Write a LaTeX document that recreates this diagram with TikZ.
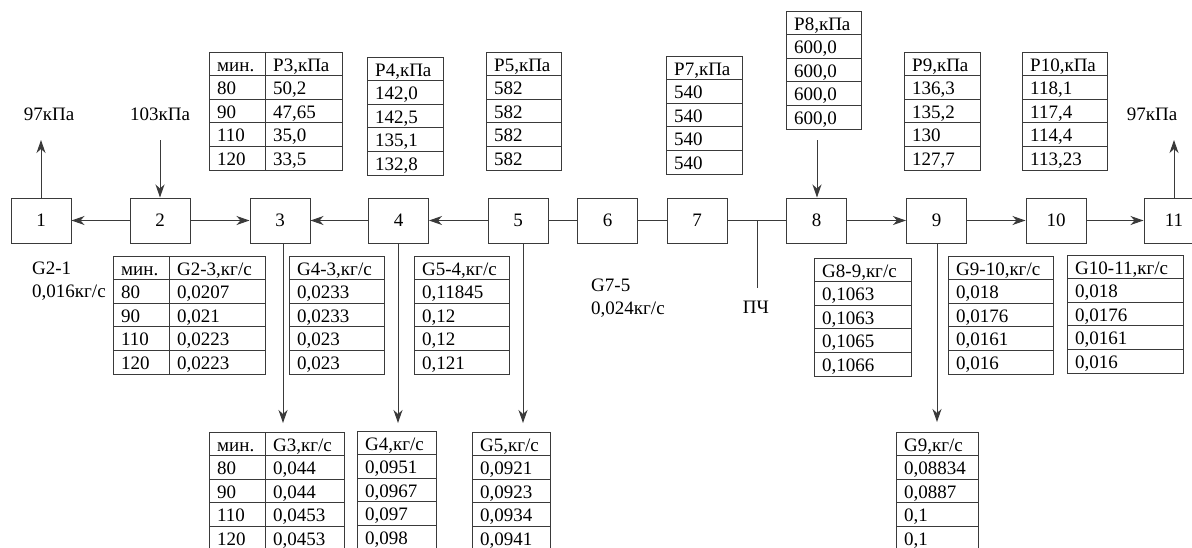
\documentclass[tikz,border=0pt]{standalone}
\usepackage{fontspec}
\setmainfont{Liberation Serif}
\usepackage{tikz}
\usetikzlibrary{arrows.meta,positioning,calc}
\definecolor{ink}{HTML}{3A3A3A}

% one column of a data table: name, left, top, right, entries (header first)
\newcommand{\gridcol}[5]{%
  \draw[tabline] (#2,#3) rectangle (#4,{#3+5*23.6});
  \foreach \r in {1,...,4}{\draw[tabline] (#2,{#3+\r*23.6}) -- (#4,{#3+\r*23.6});}
  \foreach \e [count=\i] in {#5}{\node[tabtxt] (#1-\i) at ({#2+8},{#3+\i*23.6-4.5}) {\e};}
}

\begin{document}
\begin{tikzpicture}[x=1pt,y=-1pt,font=\fontsize{19}{23}\selectfont,
  blk/.style={draw=ink,line width=1pt,minimum width=60pt,minimum height=45pt,inner sep=0pt},
  tabline/.style={draw=ink,line width=1pt},
  tabtxt/.style={anchor=base west,inner sep=0pt},
  lbl/.style={inner sep=0pt},
  arr/.style={draw=ink,line width=1pt,-{Stealth[length=13pt,width=9pt,inset=4pt]}},
  wire/.style={draw=ink,line width=1pt}]
\useasboundingbox (0,0) rectangle (1192,547);
\clip (0,0) rectangle (1192,547);

% main chain
\node[blk] (b1) at (41,220.5) {1};
\node[blk] (b2) at (160,220.5) {2};
\node[blk] (b3) at (280,220.5) {3};
\node[blk] (b4) at (398.5,220.5) {4};
\node[blk] (b5) at (518,220.5) {5};
\node[blk] (b6) at (607.5,220.5) {6};
\node[blk] (b7) at (697,220.5) {7};
\node[blk] (b8) at (816.5,220.5) {8};
\node[blk] (b9) at (936.5,220.5) {9};
\node[blk] (b10) at (1056,220.5) {10};
\node[blk] (b11) at (1174,220.5) {11};

\draw[arr] (b2) -- (b1);
\draw[arr] (b2) -- (b3);
\draw[arr] (b4) -- (b3);
\draw[arr] (b5) -- (b4);
\draw[wire,line width=1.8pt] (b5) -- (b6);
\draw[wire] (b6) -- (b7);
\draw[wire] (b7) -- (b8);
\draw[arr] (b8) -- (b9);
\draw[arr] (b9) -- (b10);
\draw[arr] (b10) -- (b11);

% inlet / outlet pressures
\node[lbl,anchor=base] (p1) at (49,120) {97кПа};
\node[lbl,anchor=base] (p2) at (160,120) {103кПа};
\node[lbl,anchor=base] (p11) at (1152,120) {97кПа};
\coordinate (u1) at (41,140);
\coordinate (u2) at (160,140);
\coordinate (u8) at (817,140);
\coordinate (u11) at (1174,140);
\draw[arr] (b1.north) -- (u1);
\draw[arr] (u2) -- (b2.north);
\draw[arr] (u8) -- (b8.north -| u8);
\draw[arr] (b11.north) -- (u11);

% branch ПЧ
\coordinate (pch) at (757,220.5);
\coordinate (pchend) at (757,288);
\draw[wire] (pch) -- (pchend);
\node[lbl,anchor=base] (lpch) at (756,313) {ПЧ};

% outflows
\coordinate (d3) at (283,423);
\coordinate (d4) at (398,423);
\coordinate (d5) at (523,423);
\coordinate (d9) at (937,422);
\draw[arr] (b3.south -| d3) -- (d3);
\draw[arr] (b4.south -| d4) -- (d4);
\draw[arr] (b5.south -| d5) -- (d5);
\draw[arr] (b9.south -| d9) -- (d9);

% flow labels
\node[lbl,anchor=west,align=left] (g21) at (32,281) {G2-1\\0,016кг/с};
\node[lbl,anchor=west,align=left] (g75) at (591,298) {G7-5\\0,024кг/с};

% pressure tables
\gridcol{tP3a}{209}{52}{265}{мин.,80,90,110,120}
\gridcol{tP3}{265}{52}{342}{{P3,кПа},{50,2},{47,65},{35,0},{33,5}}
\gridcol{tP4}{367}{57}{443}{{P4,кПа},{142,0},{142,5},{135,1},{132,8}}
\gridcol{tP5}{486}{52}{561}{{P5,кПа},582,582,582,582}
\gridcol{tP7}{666}{56}{742}{{P7,кПа},540,540,540,540}
\gridcol{tP8}{786}{11}{861}{{P8,кПа},{600,0},{600,0},{600,0},{600,0}}
\gridcol{tP9}{904}{52}{980}{{P9,кПа},{136,3},{135,2},130,{127,7}}
\gridcol{tP10}{1022}{52}{1107}{{P10,кПа},{118,1},{117,4},{114,4},{113,23}}

% flow tables between nodes
\gridcol{tG23a}{113}{256}{169}{мин.,80,90,110,120}
\gridcol{tG23}{169}{256}{265}{{G2-3,кг/с},{0,0207},{0,021},{0,0223},{0,0223}}
\gridcol{tG43}{289}{256}{384}{{G4-3,кг/с},{0,0233},{0,0233},{0,023},{0,023}}
\gridcol{tG54}{414}{256}{509}{{G5-4,кг/с},{0,11845},{0,12},{0,12},{0,121}}
\gridcol{tG89}{814}{258}{911}{{G8-9,кг/с},{0,1063},{0,1063},{0,1065},{0,1066}}
\gridcol{tG910}{948}{256}{1053}{{G9-10,кг/с},{0,018},{0,0176},{0,0161},{0,016}}
\gridcol{tG1011}{1067}{255}{1183}{{G10-11,кг/с},{0,018},{0,0176},{0,0161},{0,016}}

% outflow tables
\gridcol{tG3a}{209}{432}{265}{мин.,80,90,110,120}
\gridcol{tG3}{265}{432}{344}{{G3,кг/с},{0,044},{0,044},{0,0453},{0,0453}}
\gridcol{tG4}{357}{431}{436}{{G4,кг/с},{0,0951},{0,0967},{0,097},{0,098}}
\gridcol{tG5}{472}{432}{550}{{G5,кг/с},{0,0921},{0,0923},{0,0934},{0,0941}}
\gridcol{tG9}{896}{432}{978}{{G9,кг/с},{0,08834},{0,0887},{0,1},{0,1}}
\end{tikzpicture}
\end{document}
